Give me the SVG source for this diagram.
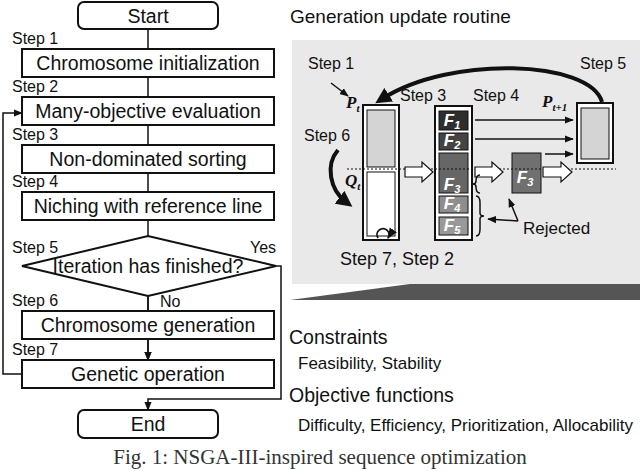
<svg xmlns="http://www.w3.org/2000/svg" width="640" height="471" viewBox="0 0 640 471">
<style>
text{font-family:"Liberation Sans",Arial,sans-serif;fill:#111}
.b{fill:#fff;stroke:#111;stroke-width:2}
.t{font-size:19.5px;text-anchor:middle}
.s{font-size:16px}
.l{stroke:#111;stroke-width:1.5;fill:none}
.m{font-family:"Liberation Serif",serif;font-style:italic;font-weight:bold;font-size:17px}
</style>
<defs>
<marker id="a" viewBox="0 0 10 10" refX="9" refY="5" markerWidth="6" markerHeight="6" orient="auto"><path d="M0,1L10,5L0,9z" fill="#111"/></marker>
<marker id="ab" viewBox="0 0 10 10" refX="5" refY="5" markerWidth="4" markerHeight="4" orient="auto"><path d="M0,0L10,5L0,10z" fill="#111"/></marker>
</defs>
<rect x="292" y="40" width="348" height="244" fill="#e9e9e9"/>
<polygon points="290,300 410,284 640,284 640,300" fill="#555"/>
<text x="290" y="23" style="font-size:19px">Generation update routine</text>
<g id="connectors">
<path class="l" d="M148,29V49M148,77V97M148,125V145M148,173V192M148,220V236M148,296V311M148,339V360" marker-end="url(#a)"/>
<path class="l" d="M148,296V311M148,339V360" marker-end="url(#a)"/>
<path class="l" d="M22,374H3V113H22" marker-end="url(#a)"/>
<path class="l" d="M276,266H281V399H148V410" marker-end="url(#a)"/>
</g>
<g id="start"><rect class="b" x="78" y="2" width="140" height="27" rx="6"/><text class="t" x="148" y="23">Start</text></g>
<g id="s1"><text class="s" x="12" y="44">Step 1</text><rect class="b" x="22" y="49" width="252" height="28"/><text class="t" x="148" y="70">Chromosome initialization</text></g>
<g id="s2"><text class="s" x="12" y="92">Step 2</text><rect class="b" x="22" y="97" width="252" height="28"/><text class="t" x="148" y="118">Many-objective evaluation</text></g>
<g id="s3"><text class="s" x="12" y="140">Step 3</text><rect class="b" x="22" y="145" width="252" height="28"/><text class="t" x="148" y="166">Non-dominated sorting</text></g>
<g id="s4"><text class="s" x="12" y="187">Step 4</text><rect class="b" x="22" y="192" width="252" height="28"/><text class="t" x="148" y="213">Niching with reference line</text></g>
<g id="s5"><polygon class="b" points="22,266 148,236 276,266 148,296"/><text class="s" x="12" y="253">Step 5</text><text class="s" x="250" y="253">Yes</text><text class="t" x="148" y="273">Iteration has finished?</text><text class="s" x="160" y="307">No</text></g>
<g id="s6"><text class="s" x="12" y="306">Step 6</text><rect class="b" x="22" y="311" width="252" height="28"/><text class="t" x="148" y="332">Chromosome generation</text></g>
<g id="s7"><text class="s" x="12" y="355">Step 7</text><rect class="b" x="22" y="360" width="252" height="28"/><text class="t" x="148" y="381">Genetic operation</text></g>
<g id="end"><rect class="b" x="78" y="410" width="140" height="28" rx="6"/><text class="t" x="148" y="431">End</text></g>
<text x="320" y="464" style="font-family:'Liberation Serif',serif;font-size:21px;text-anchor:middle;fill:#333">Fig. 1: NSGA-III-inspired sequence optimization</text>
<g id="routine">
<text class="s" x="308" y="69">Step 1</text><text class="s" x="580" y="69">Step 5</text>
<text class="s" x="400" y="101">Step 3</text><text class="s" x="473" y="101">Step 4</text>
<text class="s" x="304" y="141">Step 6</text>
<text x="340" y="265" style="font-size:18px">Step 7, Step 2</text>
<line class="l" x1="331" y1="83" x2="348" y2="96" marker-end="url(#a)"/>
<text class="m" x="346" y="108">P<tspan font-size="11" dy="4">t</tspan></text>
<text class="m" x="345" y="186">Q<tspan font-size="11" dy="4">t</tspan></text>
<text class="m" x="542" y="107">P<tspan font-size="11" dy="4">t+1</tspan></text>
<rect x="363" y="105" width="36" height="135" fill="#fff" stroke="#111" stroke-width="2"/>
<rect x="367" y="110" width="28" height="57" fill="#d4d4d4" stroke="#111"/>
<rect x="367" y="172" width="28" height="64" fill="#fff" stroke="#111"/>
<rect x="435" y="106" width="37" height="134" fill="#fff" stroke="#111" stroke-width="2"/>
<g stroke="#111">
<rect x="439" y="111" width="29" height="19" fill="#2e2e2e"/>
<rect x="439" y="133" width="29" height="17" fill="#444"/>
<rect x="439" y="153" width="29" height="40" fill="#666"/>
<rect x="439" y="196" width="29" height="17" fill="#8e8e8e"/>
<rect x="439" y="217" width="29" height="18" fill="#999"/>
<rect x="512" y="153" width="29" height="40" fill="#707070"/>
</g>
<rect x="577" y="103" width="36" height="60" fill="#fff" stroke="#111" stroke-width="2"/>
<rect x="581" y="108" width="28" height="51" fill="#d4d4d4" stroke="#111"/>
<g class="m" style="text-anchor:middle">
<text x="452" y="126" style="fill:#fff">F<tspan font-size="11" dy="3">1</tspan></text>
<text x="452" y="146" style="fill:#fff">F<tspan font-size="11" dy="3">2</tspan></text>
<text x="452" y="190" style="fill:#fff">F<tspan font-size="11" dy="3">3</tspan></text>
<text x="452" y="209" style="fill:#fff">F<tspan font-size="11" dy="3">4</tspan></text>
<text x="452" y="231" style="fill:#fff">F<tspan font-size="11" dy="3">5</tspan></text>
<text x="525" y="183" style="fill:#fff">F<tspan font-size="11" dy="3">3</tspan></text>
</g>
<line x1="347" y1="169" x2="616" y2="169" stroke="#111" stroke-width="1.2" stroke-dasharray="2,2"/>
<g fill="#fff" stroke="#111" stroke-width="1.2">
<polygon points="405,167 422,167 422,162 433,172 422,182 422,177 405,177"/>
<polygon points="475,167 492,167 492,162 503,172 492,182 492,177 475,177"/>
<polygon points="543,167 561,167 561,162 572,172 561,182 561,177 543,177"/>
</g>
<g class="l" marker-end="url(#a)">
<line x1="475" y1="120" x2="573" y2="120"/>
<line x1="475" y1="139" x2="573" y2="139"/>
<line x1="545" y1="154" x2="573" y2="154"/>
</g>
<path d="M602,102C590,60 450,55 382,99" fill="none" stroke="#111" stroke-width="4" marker-end="url(#ab)"/>
<path d="M338,150C325,165 330,190 346,202" fill="none" stroke="#111" stroke-width="4" marker-end="url(#ab)"/>
<path d="M378,238A6,6 0 1 1 388,238" fill="none" stroke="#111" stroke-width="1.8" marker-end="url(#a)"/>
<path class="l" d="M480,175Q476,175 476,181Q476,184 473,184Q476,184 476,187Q476,193 480,193"/>
<path class="l" d="M476,196Q480,196 480,203V213Q480,216 484,216Q480,216 480,219V229Q480,236 476,236"/>
<line class="l" x1="518" y1="221" x2="488" y2="219" marker-end="url(#a)"/>
<line class="l" x1="518" y1="221" x2="509" y2="199" marker-end="url(#a)"/>
<text x="523" y="234" style="font-size:17px">Rejected</text>
</g>
<g id="text">
<text x="289" y="344" style="font-size:19.5px">Constraints</text>
<text x="298" y="369" style="font-size:17px">Feasibility, Stability</text>
<text x="289" y="402" style="font-size:19.5px">Objective functions</text>
<text x="298" y="431" style="font-size:17px">Difficulty, Efficiency, Prioritization, Allocability</text>
</g>
</svg>
